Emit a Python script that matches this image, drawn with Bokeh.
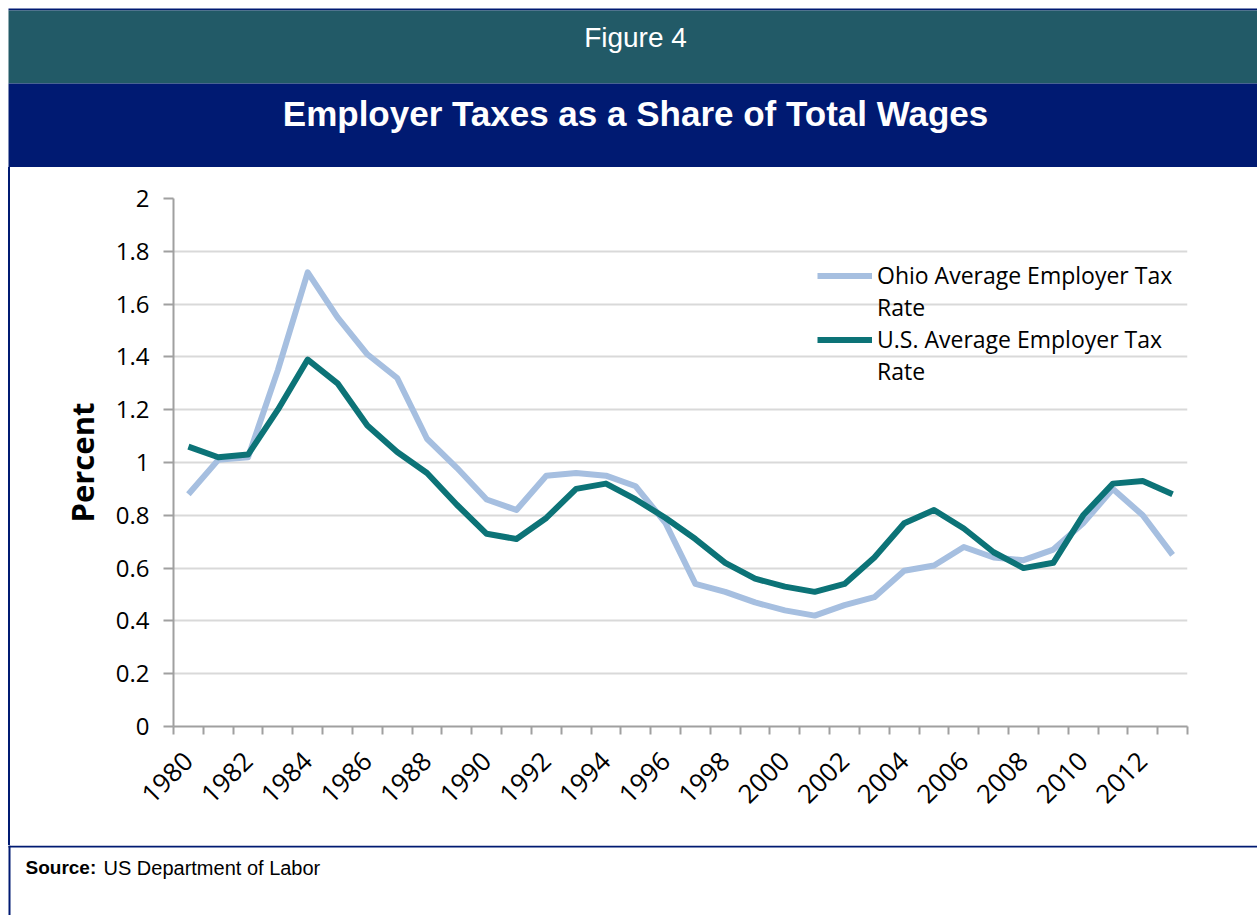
import math
from bokeh.plotting import figure
from bokeh.layouts import column, row
from bokeh.models import Range1d, FixedTicker, Legend, LegendItem, Spacer
from bokeh.core.properties import value
from bokeh.embed import file_html
from bokeh.resources import INLINE

# ---- data ----
years = list(range(1980, 2014))
ohio = [0.88, 1.01, 1.02, 1.35, 1.72, 1.55, 1.41, 1.32, 1.09, 0.98,
        0.86, 0.82, 0.95, 0.96, 0.95, 0.91, 0.77, 0.54, 0.51, 0.47,
        0.44, 0.42, 0.46, 0.49, 0.59, 0.61, 0.68, 0.64, 0.63, 0.67,
        0.77, 0.90, 0.80, 0.65]
us = [1.06, 1.02, 1.03, 1.20, 1.39, 1.30, 1.14, 1.04, 0.96, 0.84,
      0.73, 0.71, 0.79, 0.90, 0.92, 0.86, 0.79, 0.71, 0.62, 0.56,
      0.53, 0.51, 0.54, 0.64, 0.77, 0.82, 0.75, 0.66, 0.60, 0.62,
      0.80, 0.92, 0.93, 0.88]
y_ticks = [0, 0.2, 0.4, 0.6, 0.8, 1, 1.2, 1.4, 1.6, 1.8, 2]
y_tick_labels = ["0", "0.2", "0.4", "0.6", "0.8", "1", "1.2", "1.4", "1.6", "1.8", "2"]
x_label_years = list(range(1980, 2013, 2))
series_names = ["Ohio Average Employer Tax", "U.S. Average Employer Tax"]
fig_label = "Figure 4"
title_text = "Employer Taxes as a Share of Total Wages"
y_title = "Percent"
source_label = "Source:"
source_text = "US Department of Labor"

OHIO_C = "#A6BFE0"
US_C = "#0C7377"
TEAL_BAND = "#225A67"
NAVY = "#001A72"
AXIS_C = "#A0A0A0"
GRID_C = "#D9D9D9"
FONT = "Open Sans"
HFONT = "Liberation Sans"

W = 1257
HEAD_H = 167
MAIN_H = 678
FOOT_H = 70
STRIP_W = 10


def blank_fig(width, height, xr, yr):
    f = figure(frame_width=width, frame_height=height, min_border=0,
               x_range=xr, y_range=yr, x_axis_type=None, y_axis_type=None,
               output_backend="svg", toolbar_location=None,
               background_fill_color="white", border_fill_color="white",
               outline_line_color=None)
    f.grid.visible = False
    return f


# ---- header ----
head = blank_fig(W, HEAD_H, Range1d(0, W), Range1d(HEAD_H, 0))
head.quad(left=[8, 8, 8], right=[W, W, W], top=[8, 10, 83], bottom=[10, 83, HEAD_H],
          fill_color=[NAVY, TEAL_BAND, NAVY], line_color=None)
head.text(x=[635], y=[37], text=[fig_label], text_align="center", text_baseline="middle",
          text_font=value(HFONT), text_font_size=value("28px"), text_color="white")
head.text(x=[635], y=[113], text=[title_text], text_align="center", text_baseline="middle",
          text_font=value(HFONT), text_font_size=value("35px"), text_font_style="bold",
          text_color="white")

# ---- left border (page margin + navy rule) ----
gap = Spacer(width=8, height=MAIN_H, styles={"background-color": "white"})
rule = Spacer(width=2, height=MAIN_H, styles={"background-color": NAVY})

# ---- main chart ----
p = figure(frame_width=1014, frame_height=528,
           min_border_left=173 - STRIP_W, min_border_right=70,
           min_border_top=31, min_border_bottom=119,
           x_range=Range1d(years[0] - 0.5, years[-1] + 0.5),
           y_range=Range1d(0, 2),
           output_backend="svg", toolbar_location=None,
           background_fill_color="white", border_fill_color="white",
           outline_line_color=None)

p.xgrid.grid_line_color = None
p.ygrid.grid_line_color = GRID_C
p.ygrid.grid_line_width = 2
p.ygrid.ticker = FixedTicker(ticks=y_ticks)

p.yaxis.ticker = FixedTicker(ticks=y_ticks)
p.yaxis.major_label_overrides = {t: s for t, s in zip(y_ticks, y_tick_labels)}
p.yaxis.axis_line_color = AXIS_C
p.yaxis.axis_line_width = 2
p.yaxis.major_tick_line_color = AXIS_C
p.yaxis.major_tick_line_width = 2
p.yaxis.major_tick_out = 10
p.yaxis.major_tick_in = 0
p.yaxis.minor_tick_line_color = None
p.yaxis.major_label_text_font = FONT
p.yaxis.major_label_text_font_size = "24px"
p.yaxis.major_label_text_color = "black"
p.yaxis.major_label_standoff = 14
p.yaxis.axis_label = y_title
p.yaxis.axis_label_text_font = FONT
p.yaxis.axis_label_text_font_size = "31px"
p.yaxis.axis_label_text_font_style = "bold"
p.yaxis.axis_label_text_color = "black"
p.yaxis.axis_label_standoff = 10

boundaries = [y - 0.5 for y in years] + [years[-1] + 0.5]
p.xaxis.ticker = FixedTicker(ticks=x_label_years, minor_ticks=boundaries)
p.xaxis.axis_line_color = AXIS_C
p.xaxis.axis_line_width = 2
p.xaxis.major_tick_line_color = None
p.xaxis.major_tick_out = 0
p.xaxis.major_tick_in = 0
p.xaxis.minor_tick_line_color = AXIS_C
p.xaxis.minor_tick_line_width = 2
p.xaxis.minor_tick_out = 8
p.xaxis.minor_tick_in = 0
p.xaxis.major_label_orientation = math.pi / 4
p.xaxis.major_label_text_font = FONT
p.xaxis.major_label_text_font_size = "26px"
p.xaxis.major_label_text_color = "black"
p.xaxis.major_label_standoff = 22

r_ohio = p.line(years, ohio, line_color=OHIO_C, line_width=6, line_join="round")
r_us = p.line(years, us, line_color=US_C, line_width=6, line_join="round")
r_blank = p.line(years, us, line_alpha=0)

legend = Legend(items=[
    LegendItem(label=series_names[0], renderers=[r_ohio]),
    LegendItem(label="Rate", renderers=[r_blank]),
    LegendItem(label=series_names[1], renderers=[r_us]),
    LegendItem(label="Rate", renderers=[r_blank]),
], location=(644, 339), orientation="vertical")
legend.glyph_width = 55
legend.glyph_height = 31
legend.label_height = 31
legend.spacing = 0
legend.padding = 0
legend.margin = 0
legend.label_standoff = 5
legend.label_text_font = FONT
legend.label_text_font_size = "23px"
legend.label_text_color = "black"
legend.border_line_color = None
legend.background_fill_alpha = 0
p.add_layout(legend, "center")

# ---- footer ----
foot = blank_fig(W, FOOT_H, Range1d(0, W), Range1d(915, 845))
foot.quad(left=[8, 8], right=[W, 10], top=[845, 845], bottom=[847, 915],
          fill_color=NAVY, line_color=None)
foot.text(x=[25], y=[867], text=[source_label], text_align="left", text_baseline="middle",
          text_font=value(HFONT), text_font_size=value("19px"), text_font_style="bold",
          text_color="black")
foot.text(x=[103], y=[867], text=[source_text], text_align="left", text_baseline="middle",
          text_font=value(HFONT), text_font_size=value("20px"), text_color="black")

layout = column(head, row(gap, rule, p, spacing=0), foot, spacing=0)
open("out.html", "w").write(file_html(layout, INLINE))
